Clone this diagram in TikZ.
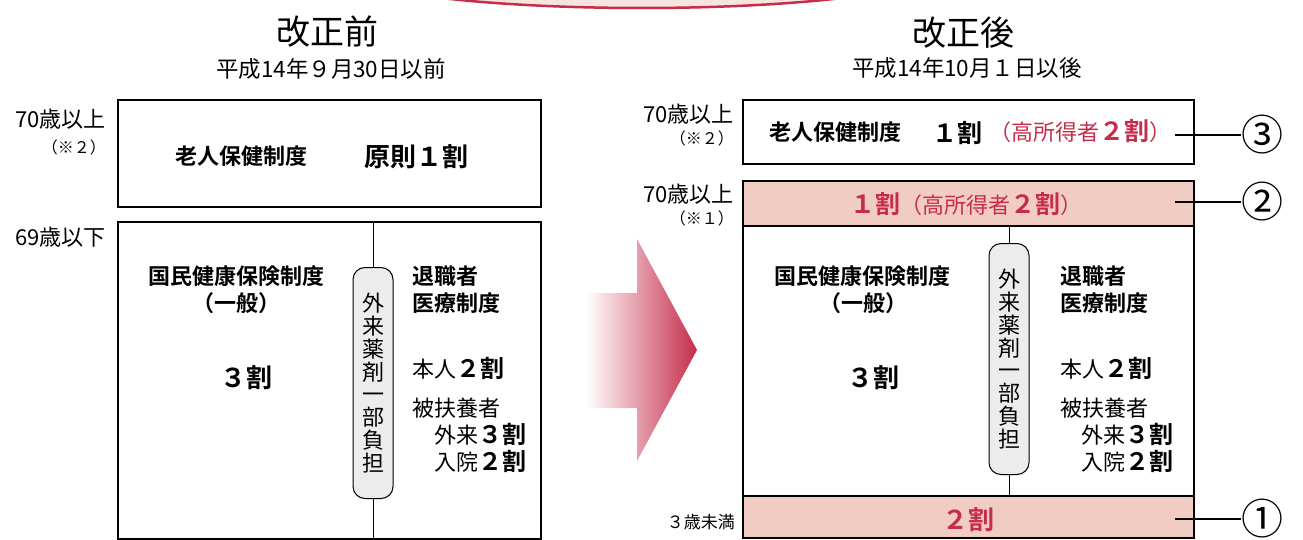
\documentclass[tikz,border=0pt]{standalone}
\usepackage{fontspec}
\setmainfont{Noto Sans CJK JP}[BoldFont={Noto Sans CJK JP Bold}]
\usetikzlibrary{positioning}
\definecolor{kred}{RGB}{198,45,75}
\definecolor{bandpink}{RGB}{240,204,195}
\definecolor{arcpink}{RGB}{246,228,222}
\definecolor{arrowmid}{RGB}{224,150,136}
\definecolor{pillgray}{RGB}{236,236,236}
\newcommand{\fsz}[1]{\fontsize{#1}{#1}\selectfont}
\newcommand{\wari}[2][25]{\textbf{\fsz{#1}#2割}}
\tikzset{
  every node/.style = {inner sep=0pt, anchor=base, font=\fsz{21}},
  title/.style = {font=\fsz{34}},
  subtitle/.style = {font=\fsz{22.5}},
  agelabel/.style = {anchor=base east, font=\fsz{22}},
  notelabel/.style = {anchor=base east, font=\fsz{16}},
  sysname/.style = {font=\bfseries\fsz{22}},
  rateleft/.style = {anchor=base west, font=\fsz{22}},
  pill/.style = {draw, line width=1pt, fill=pillgray, rounded corners=12pt,
    anchor=center, minimum width=40pt, minimum height=231pt, align=center,
    font=\fontsize{22}{22.8}\selectfont},
  frame/.style = {line width=2.5pt},
  divider/.style = {line width=1pt},
  leader/.style = {line width=1.8pt},
  circnum/.style = {anchor=center, font=\fsz{42}}
}
\begin{document}
\begin{tikzpicture}[x=1pt, y=-1pt]
  \useasboundingbox (0,0) rectangle (1303,540);

  % top arc
  \begin{scope}
    \clip (0,0) rectangle (1303,540);
    \draw[kred, line width=2.5pt, fill=arcpink]
      (642,-32) ellipse [x radius=303, y radius=40];
  \end{scope}

  % before
  \node[title] (tbefore) at (327,45) {改正前};
  \node[subtitle] (dbefore) at (331,78) {平成14年９月30日以前};

  \node[agelabel] (ageA) at (106,128) {70歳以上};
  \node[notelabel] (noteA) at (106,154) {（※２）};
  \node[agelabel] (ageB) at (106,245) {69歳以下};

  \draw[frame] (118,100) rectangle (541,207);
  \node[sysname] (roujinA) at (241,165) {老人保健制度};
  \node[font=\bfseries\fsz{26}] (rateA) at (416,167) {原則１割};

  \draw[frame] (118,222) rectangle (541,539);
  \coordinate (divAtop) at (373,222);
  \coordinate (divAbot) at (373,539);
  \node[pill] (pillA) at (373,383) {外\\来\\薬\\剤\\一\\部\\負\\担};
  \draw[divider] (divAtop) -- (pillA.north);
  \draw[divider] (pillA.south) -- (divAbot);

  \node[sysname] (kokuhoA) at (236,284) {国民健康保険制度};
  \node[sysname] (ippanA) at (236,311) {（一般）};
  \node (sanA) at (246,387) {\wari[26]{３}};
  \node[sysname, anchor=base west] (taiA) at (412,284) {退職者};
  \node[sysname, anchor=base west] (iryoA) at (412,311) {医療制度};
  \node[rateleft] (honA) at (412,377) {本人\wari[24]{２}};
  \node[rateleft] (fuyoA) at (412,416) {被扶養者};
  \node[rateleft] (gaiA) at (434,443) {外来\wari[24]{３}};
  \node[rateleft] (nyuA) at (434,470) {入院\wari[24]{２}};

  % arrow
  \shade[left color=white, middle color=arrowmid, right color=kred]
    (586,293) -- (637,293) -- (637,239) -- (697,350) -- (637,461)
    -- (637,408) -- (586,408) -- cycle;

  % after
  \node[title] (tafter) at (963,46) {改正後};
  \node[subtitle] (dafter) at (967,77) {平成14年10月１日以後};

  \node[agelabel] (ageC) at (734,123) {70歳以上};
  \node[notelabel] (noteC) at (734,145) {（※２）};
  \node[agelabel] (ageD) at (734,203) {70歳以上};
  \node[notelabel] (noteD) at (734,224) {（※１）};
  \node[agelabel, font=\fsz{17}] (ageE) at (735,528) {３歳未満};

  \draw[frame] (743,100) rectangle (1194,164);
  \node[sysname] (roujinC) at (835,141) {老人保健制度};
  \node (rateC) at (957,143) {\wari{１}};
  \node[anchor=base west, text=kred, font=\fsz{22}] (highC) at (989,141)
    {（高所得者\wari{２}）};

  \fill[bandpink] (743,181) rectangle (1194,226);
  \fill[bandpink] (743,496) rectangle (1194,538);
  \draw[frame] (743,181) rectangle (1194,538);
  \draw[frame] (743,226) -- (1194,226);
  \draw[frame] (743,496) -- (1194,496);

  \node[text=kred, font=\fsz{22}] (rateD) at (966,213)
    {\wari{１}（高所得者\wari{２}）};
  \node[text=kred] (rateE) at (968,529) {\wari[26]{２}};

  \coordinate (divCtop) at (1009,226);
  \coordinate (divCbot) at (1009,496);
  \node[pill] (pillC) at (1009,359) {外\\来\\薬\\剤\\一\\部\\負\\担};
  \draw[divider] (divCtop) -- (pillC.north);
  \draw[divider] (pillC.south) -- (divCbot);

  \node[sysname] (kokuhoC) at (862,284) {国民健康保険制度};
  \node[sysname] (ippanC) at (863,311) {（一般）};
  \node (sanC) at (873,387) {\wari[26]{３}};
  \node[sysname, anchor=base west] (taiC) at (1060,284) {退職者};
  \node[sysname, anchor=base west] (iryoC) at (1060,311) {医療制度};
  \node[rateleft] (honC) at (1060,377) {本人\wari[24]{２}};
  \node[rateleft] (fuyoC) at (1060,416) {被扶養者};
  \node[rateleft] (gaiC) at (1081,443) {外来\wari[24]{３}};
  \node[rateleft] (nyuC) at (1081,470) {入院\wari[24]{２}};

  % leaders
  \node[circnum] (c3) at (1262,135) {③};
  \node[circnum] (c2) at (1262,202) {②};
  \node[circnum] (c1) at (1262,519) {①};
  \coordinate (l3) at (1175,135);
  \coordinate (l2) at (1175,202);
  \coordinate (l1) at (1175,519);
  \draw[leader] (l3) -- (c3.west);
  \draw[leader] (l2) -- (c2.west);
  \draw[leader] (l1) -- (c1.west);
\end{tikzpicture}
\end{document}
